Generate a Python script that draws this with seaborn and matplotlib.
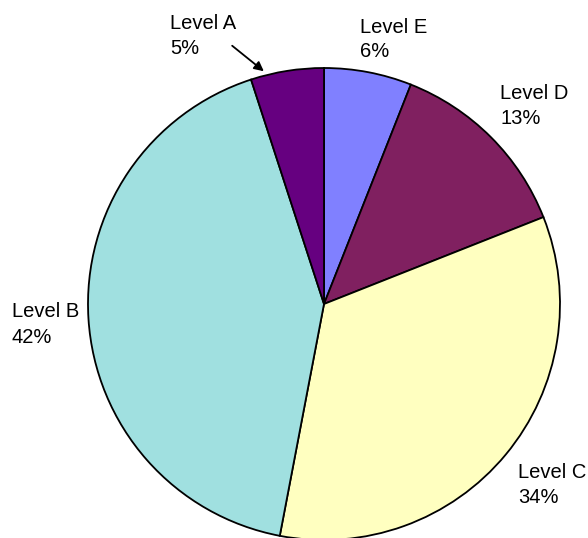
import matplotlib
matplotlib.use("Agg")
import matplotlib.pyplot as plt
import seaborn as sns

sns.set_style("white")
plt.rcParams['font.family'] = ['Liberation Sans', 'DejaVu Sans']

labels = ["Level E", "Level D", "Level C", "Level B", "Level A"]
values = [6, 13, 34, 42, 5]
colors = ["#8080FF", "#802060", "#FFFFC0", "#A0E0E0", "#660080"]

W, H = 588, 538
CX, CY, R = 324, 304, 236

def px(x, y):
    return ((x - CX) / R, (CY - y) / R)

fig = plt.figure(figsize=(W / 100, H / 100), dpi=100)
ax = fig.add_axes([0, 0, 1, 1])
ax.pie(values, colors=sns.color_palette(colors), startangle=90, counterclock=False,
       wedgeprops=dict(edgecolor="black", linewidth=1.3))
x0, y0 = px(0, 0)
x1, y1 = px(W, H)
ax.set_xlim(x0, x1)
ax.set_ylim(y1, y0)
ax.set_aspect('auto')
ax.axis('off')

# (x, baseline of first line, baseline of second line) in pixels
label_pos = {"Level E": (360, 33, 57), "Level D": (500, 99, 124), "Level C": (518, 478, 503),
             "Level B": (12, 317, 343), "Level A": (170, 29, 54)}
for lab, v in zip(labels, values):
    x, b1, b2 = label_pos[lab]
    ax.text(*px(x, b1), lab, ha='left', va='baseline', fontsize=14.5, color='black')
    ax.text(*px(x, b2), f"{v}%", ha='left', va='baseline', fontsize=14.5, color='black')

ax.annotate("", xy=px(266, 73), xytext=px(230, 44),
            arrowprops=dict(arrowstyle='-|>', color='black', lw=1.3, mutation_scale=14))

fig.savefig("out.png", dpi=100)
